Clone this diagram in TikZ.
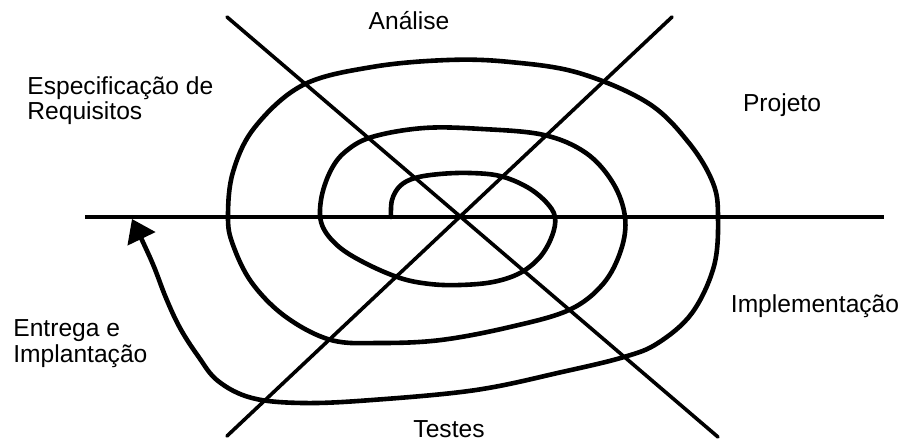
\documentclass[tikz,border=0pt]{standalone}
\usepackage{fontspec}
\setmainfont{Liberation Sans}
\usetikzlibrary{arrows.meta}
\tikzset{
  axisline/.style={line width=2.4pt},
  phaseline/.style={line width=1.8pt, line cap=round},
  spiralline/.style={line width=2.3pt, line cap=round, line join=round},
  phase/.style={font=\fontsize{12.3}{13.5}\selectfont, inner sep=0pt},
}
\begin{document}
\begin{tikzpicture}[x=0.5pt,y=-0.5pt]
    \useasboundingbox (0,0) rectangle (904,443);
    \coordinate (hleft) at (85,217);
    \coordinate (hright) at (884,217);
    \coordinate (dtl) at (227,17);
    \coordinate (dbr) at (718,437);
    \coordinate (dbl) at (227,436);
    \coordinate (dtr) at (672,17);
    \draw[axisline] (hleft) -- (hright);
    \foreach \from/\to in {dtl/dbr, dbl/dtr}
        \draw[phaseline] (\from) -- (\to);
    \draw[spiralline, -{Triangle[length=11pt, width=15pt]}] plot[smooth, tension=0.6] coordinates {
        (391,217) (392,200) (400,186) (415,178) (440,174) (470,173) (500,176)
        (527,187) (546,202) (555,217) (552,236) (540,257) (520,273) (493,282)
        (460,285) (430,284) (400,278) (365,263) (338,246) (322,225) (321,200)
        (330,172) (345,152) (372,137) (424,128) (482,129) (544,135) (586,153)
        (613,183) (625,217) (621,250) (603,284) (569,310) (510,327) (441,340)
        (380,343) (331,340) (286,317) (252,283) (233,245) (228,217) (233,172)
        (255,127) (303,85) (372,67) (448,60) (510,62) (579,73) (648,103)
        (689,143) (713,183) (718,217) (714,266) (692,313) (658,343) (624,357)
        (562,372) (476,390) (372,400) (303,403) (252,398) (218,381) (198,356)
        (180,328) (166,298) (152,262) (132,219)};
    \node[phase, anchor=base] (analise) at (409,30) {Análise};
    \node[phase, anchor=base] (projeto) at (782,112) {Projeto};
    \node[phase, anchor=base] (implementacao) at (815,312) {Implementação};
    \node[phase, anchor=base] (testes) at (449,437) {Testes};
    \node[phase, anchor=west, align=left, font=\fontsize{12.3}{11.5}\selectfont] (especificacao) at (27,101) {Especificação de\\Requisitos};
    \node[phase, anchor=west, align=left, font=\fontsize{12.3}{13}\selectfont] (entrega) at (13,344) {Entrega e\\Implantação};
\end{tikzpicture}
\end{document}
